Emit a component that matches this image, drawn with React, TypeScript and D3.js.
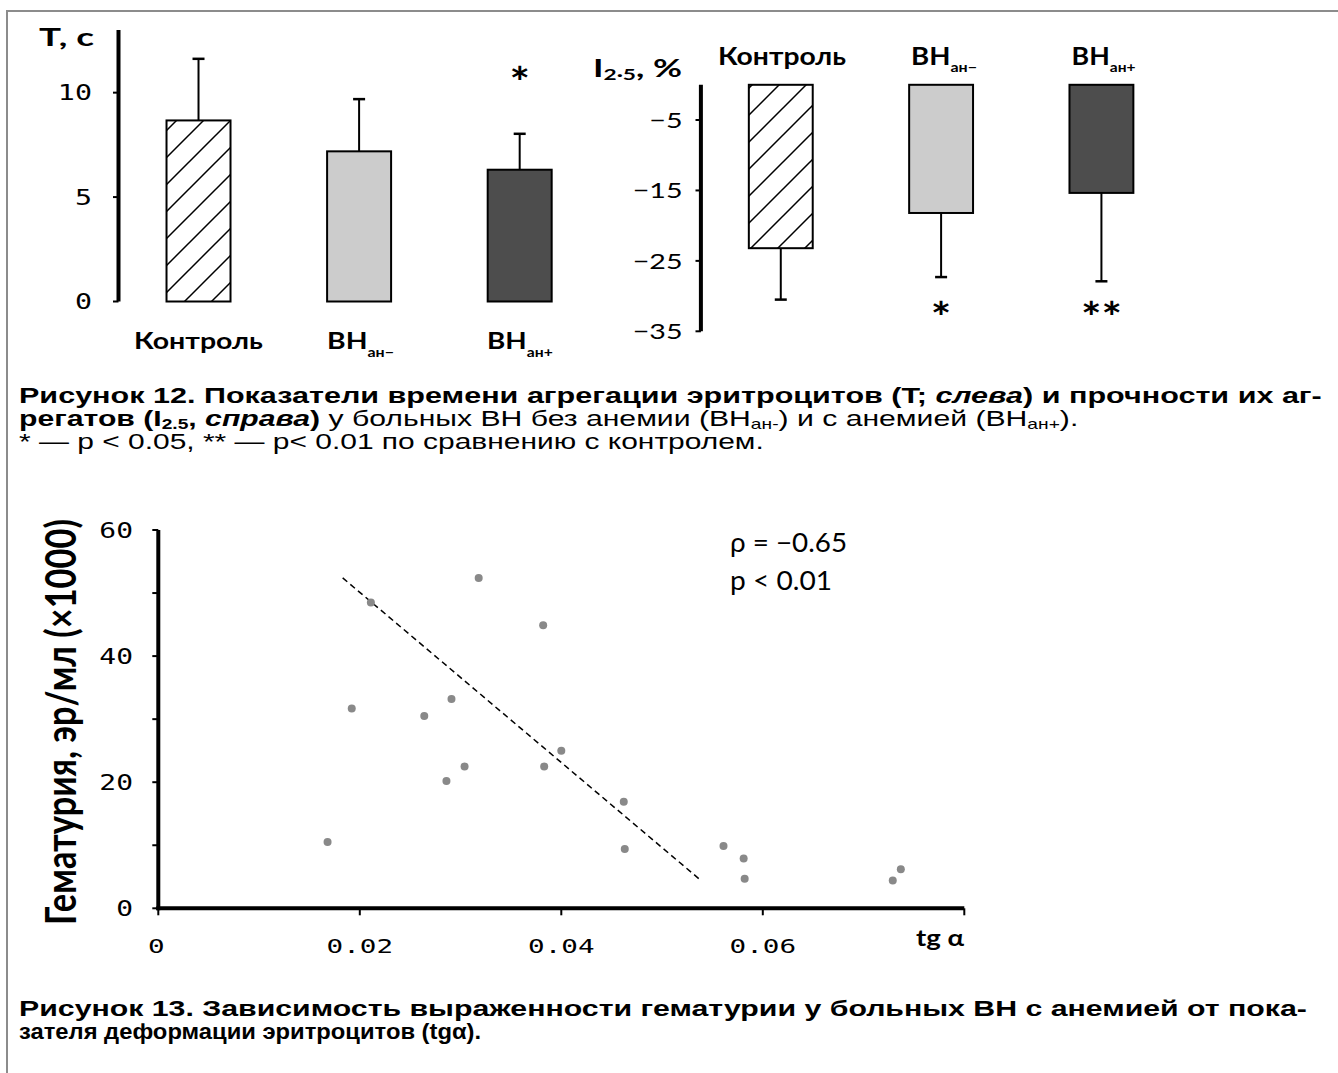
import React, { useLayoutEffect, useRef, useState } from "react";
import * as d3 from "d3";

// ---------- DATA ----------
const categories = ["Контроль", "ВН ан−", "ВН ан+"];
const aggTimeMean = [8.67, 7.19, 6.31];
const aggTimeSD = [2.95, 2.5, 1.72];
const aggTimeTicks = [0, 5, 10];
const aggTimeSig = ["", "", "*"];

const strengthMean = [-23.2, -18.2, -15.35];
const strengthSD = [7.3, 9.1, 12.55];
const strengthTicks = [-5, -15, -25, -35];
const strengthSig = ["", "*", "**"];

const tgAlpha = [0.0168, 0.0192, 0.0211, 0.0264, 0.0286, 0.0291, 0.0304, 0.0318, 0.0382, 0.0383, 0.04, 0.0462, 0.0463, 0.0561, 0.0581, 0.0582, 0.0729, 0.0737];
const hematuria = [10.5, 31.7, 48.5, 30.5, 20.2, 33.2, 22.5, 52.4, 44.9, 22.5, 25.0, 16.9, 9.4, 9.9, 7.9, 4.7, 4.4, 6.2];
const trendX = [0.0183, 0.0538];
const trendY = [52.4, 4.5];
const scatterXTicks = [0, 0.02, 0.04, 0.06, 0.08];
const scatterXLabels = ["0", "0.02", "0.04", "0.06"];
const scatterYTicks = [0, 10, 20, 30, 40, 50, 60];
const scatterYLabels = [0, 20, 40, 60];

const LATO = "Lato, 'Open Sans', sans-serif";
const MONO = "'DejaVu Sans Mono', monospace";
const ARIAL = "'Liberation Sans', Arial, sans-serif";

type FTProps = {
  x: number; y: number; width?: number; sx?: number; sy?: number; rotate?: number;
  anchor?: "start" | "middle" | "end"; style?: React.CSSProperties; children: React.ReactNode;
};
function FitText({ x, y, width, sx = 1.3, sy = 1, rotate = 0, anchor = "start", style, children }: FTProps) {
  const ref = useRef<SVGTextElement>(null);
  const [s, setS] = useState(sx);
  useLayoutEffect(() => {
    if (width && ref.current) {
      const w = ref.current.getBBox().width;
      if (w > 0) setS(width / w);
    }
  }, [width]);
  return (
    <g transform={`translate(${x},${y}) rotate(${rotate}) scale(${s},${sy})`}>
      <text ref={ref} x={0} y={0} textAnchor={anchor} style={style}>{children}</text>
    </g>
  );
}

const fills = ["url(#hatch)", "#cccccc", "#4d4d4d"];

function Sub({ main, sub, subSize, dy }: { main: string; sub: string; subSize: number; dy: number }) {
  return (
    <>
      <tspan>{main}</tspan>
      <tspan fontSize={subSize} dy={dy}>{sub}</tspan>
    </>
  );
}

export default function App() {
  // ---- left bar chart ----
  const lx = d3.scaleBand<string>().domain(categories).range([118.5, 599.7]).paddingInner(0.6015).paddingOuter(0.299);
  const ly = d3.scaleLinear().domain([0, 13]).range([301.5, 30]);
  // ---- right bar chart ----
  const rx = d3.scaleBand<string>().domain(categories).range([700.9, 1181.3]).paddingInner(0.6015).paddingOuter(0.299);
  const ry = d3.scaleLinear().domain([0, -35]).range([84.8, 331.3]);
  // ---- scatter ----
  const sx = d3.scaleLinear().domain([0, 0.08]).range([158.3, 964.3]);
  const sy = d3.scaleLinear().domain([0, 60]).range([908.3, 530]);
  const trend = d3.line<number>().x((d, i) => sx(trendX[i])).y((d, i) => sy(trendY[i]));

  const catText = (c: string, subSize: number, dy: number) => {
    if (c === "Контроль") return c;
    const [m, s] = c.split(" ");
    return <Sub main={m} sub={s} subSize={subSize} dy={dy} />;
  };

  const leftCatX = [134, 327, 487];
  const leftCatW = [129, 67, 66];
  const rightCatX = [718, 911, 1071.6];
  const rightCatW = [128, 66, 64];

  return (
    <svg width={1338} height={1073} style={{ position: "absolute", left: 0, top: 0, background: "#fff" }}>
      <defs>
        <pattern id="hatch" patternUnits="userSpaceOnUse" width={27} height={27}>
          <rect width={27} height={27} fill="#fff" />
          <path d="M-2.7,29.7 L29.7,-2.7 M-2.7,2.7 L2.7,-2.7 M24.3,29.7 L29.7,24.3" stroke="#000" strokeWidth={1.5} />
        </pattern>
      </defs>
      <rect width={1338} height={1073} fill="#fff" />
      {/* frame */}
      <path d="M7,1073 L7,11 L1338,11" fill="none" stroke="#8c8c8c" strokeWidth={2} />

      {/* ===== Left chart ===== */}
      <FitText x={39} y={46} width={55} style={{ fontFamily: LATO, fontWeight: 700, fontSize: 25 }}>T, с</FitText>
      <line x1={118.5} x2={118.5} y1={ly(13)} y2={ly(0)} stroke="#000" strokeWidth={4} />
      {aggTimeTicks.map((t) => (
        <g key={t}>
          <line x1={113} x2={118.5} y1={ly(t)} y2={ly(t)} stroke="#000" strokeWidth={2} />
          <FitText x={92} y={ly(t) + 7.5} sx={1.35} anchor="end" style={{ fontFamily: MONO, fontSize: 21 }}>{String(t)}</FitText>
        </g>
      ))}
      {categories.map((c, i) => {
        const x0 = lx(c)!;
        const w = lx.bandwidth();
        const cx = x0 + w / 2;
        const top = aggTimeMean[i] + aggTimeSD[i];
        return (
          <g key={c}>
            <line x1={cx} x2={cx} y1={ly(aggTimeMean[i])} y2={ly(top)} stroke="#000" strokeWidth={2} />
            <line x1={cx - 6} x2={cx + 6} y1={ly(top)} y2={ly(top)} stroke="#000" strokeWidth={2.5} />
            <rect x={x0} y={ly(aggTimeMean[i])} width={w} height={ly(0) - ly(aggTimeMean[i])} fill={fills[i]} stroke="#000" strokeWidth={2} />
            {aggTimeSig[i] && (
              <FitText x={cx} y={98} sx={1.15} anchor="middle" style={{ fontFamily: LATO, fontWeight: 700, fontSize: 42 }}>{aggTimeSig[i]}</FitText>
            )}
            <FitText x={leftCatX[i]} y={349} width={leftCatW[i]} style={{ fontFamily: LATO, fontWeight: 700, fontSize: 23 }}>
              {catText(c, 13, 8)}
            </FitText>
          </g>
        );
      })}

      {/* ===== Right chart ===== */}
      <FitText x={593} y={77} width={89} style={{ fontFamily: LATO, fontWeight: 700, fontSize: 25 }}>
        <tspan>I</tspan>
        <tspan fontSize={16} dy={3}>2·5</tspan>
        <tspan dy={-3}>, %</tspan>
      </FitText>
      <line x1={700.9} x2={700.9} y1={ry(0)} y2={ry(-35)} stroke="#000" strokeWidth={4} />
      {strengthTicks.map((t) => (
        <g key={t}>
          <line x1={695.5} x2={700.9} y1={ry(t)} y2={ry(t)} stroke="#000" strokeWidth={2} />
          <FitText x={682.5} y={ry(t) + 8} sx={1.3} anchor="end" style={{ fontFamily: LATO, fontSize: 22 }}>{"−" + Math.abs(t)}</FitText>
        </g>
      ))}
      {categories.map((c, i) => {
        const x0 = rx(c)!;
        const w = rx.bandwidth();
        const cx = x0 + w / 2;
        const bottom = strengthMean[i] - strengthSD[i];
        return (
          <g key={c}>
            <line x1={cx} x2={cx} y1={ry(strengthMean[i])} y2={ry(bottom)} stroke="#000" strokeWidth={2} />
            <line x1={cx - 6} x2={cx + 6} y1={ry(bottom)} y2={ry(bottom)} stroke="#000" strokeWidth={2.5} />
            <rect x={x0} y={ry(0)} width={w} height={ry(strengthMean[i]) - ry(0)} fill={fills[i]} stroke="#000" strokeWidth={2} />
            {strengthSig[i] && (
              <FitText x={cx} y={333} sx={1.15} anchor="middle" style={{ fontFamily: LATO, fontWeight: 700, fontSize: 42 }}>{strengthSig[i]}</FitText>
            )}
            <FitText x={rightCatX[i]} y={65} width={rightCatW[i]} style={{ fontFamily: LATO, fontWeight: 700, fontSize: 24 }}>
              {catText(c, 14, 7)}
            </FitText>
          </g>
        );
      })}

      {/* ===== Caption 12 ===== */}
      <FitText x={19} y={403} width={1303} style={{ fontFamily: ARIAL, fontWeight: 700, fontSize: 22 }}>
        <tspan>Рисунок 12. Показатели времени агрегации эритроцитов (T; </tspan>
        <tspan fontStyle="italic">слева</tspan>
        <tspan>) и прочности их аг-</tspan>
      </FitText>
      <FitText x={19} y={426} width={1059} style={{ fontFamily: ARIAL, fontSize: 22 }}>
        <tspan fontWeight={700}>регатов (I</tspan>
        <tspan fontWeight={700} fontSize={14} dy={3}>2.5</tspan>
        <tspan fontWeight={700} dy={-3}>, </tspan>
        <tspan fontWeight={700} fontStyle="italic">справа</tspan>
        <tspan fontWeight={700}>)</tspan>
        <tspan> у больных ВН без анемии (ВН</tspan>
        <tspan fontSize={14} dy={3}>ан-</tspan>
        <tspan dy={-3}>) и с анемией (ВН</tspan>
        <tspan fontSize={14} dy={3}>ан+</tspan>
        <tspan dy={-3}>).</tspan>
      </FitText>
      <FitText x={19} y={449} width={745} style={{ fontFamily: ARIAL, fontSize: 22 }}>
        * — p &lt; 0.05, ** — p&lt; 0.01 по сравнению с контролем.
      </FitText>

      {/* ===== Scatter ===== */}
      <FitText x={76} y={722} width={406} rotate={-90} sy={1.3} anchor="middle" style={{ fontFamily: LATO, fontWeight: 700, fontSize: 33 }}>
        Гематурия, эр/мл (×1000)
      </FitText>
      <line x1={sx(0)} x2={sx(0)} y1={sy(60)} y2={sy(0) + 2} stroke="#000" strokeWidth={4} />
      <line x1={sx(0) - 2} x2={sx(0.08)} y1={sy(0)} y2={sy(0)} stroke="#000" strokeWidth={4} />
      {scatterYTicks.map((t) => (
        <line key={t} x1={sx(0) - 6} x2={sx(0)} y1={sy(t)} y2={sy(t)} stroke="#000" strokeWidth={2} />
      ))}
      {scatterYLabels.map((t) => (
        <FitText key={t} x={133} y={sy(t) + 8} sx={1.27} anchor="end" style={{ fontFamily: MONO, fontSize: 22 }}>{String(t)}</FitText>
      ))}
      {scatterXTicks.map((t) => (
        <line key={t} x1={sx(t)} x2={sx(t)} y1={sy(0)} y2={sy(0) + 7} stroke="#000" strokeWidth={2} />
      ))}
      {scatterXLabels.map((l) => (
        <FitText key={l} x={sx(+l) - (l === "0" ? 2 : 0)} y={953} sx={1.38} anchor="middle" style={{ fontFamily: MONO, fontSize: 20 }}>{l}</FitText>
      ))}
      <FitText x={964} y={946} width={48} anchor="end" style={{ fontFamily: LATO, fontWeight: 700, fontSize: 23 }}>tg α</FitText>
      <path d={trend(trendX) || ""} fill="none" stroke="#000" strokeWidth={1.5} strokeDasharray="6,4" />
      {tgAlpha.map((v, i) => (
        <circle key={i} cx={sx(v)} cy={sy(hematuria[i])} r={4} fill="#898989" />
      ))}
      <FitText x={730} y={552} width={117} style={{ fontFamily: LATO, fontSize: 26 }}>ρ = −0.65</FitText>
      <FitText x={730} y={590} width={102} style={{ fontFamily: LATO, fontSize: 26 }}>p &lt; 0.01</FitText>

      {/* ===== Caption 13 ===== */}
      <FitText x={19} y={1016} width={1288} style={{ fontFamily: ARIAL, fontWeight: 700, fontSize: 22 }}>
        Рисунок 13. Зависимость выраженности гематурии у больных ВН с анемией от пока-
      </FitText>
      <FitText x={19} y={1039} width={462} style={{ fontFamily: ARIAL, fontWeight: 700, fontSize: 22 }}>
        зателя деформации эритроцитов (tgα).
      </FitText>
    </svg>
  );
}
